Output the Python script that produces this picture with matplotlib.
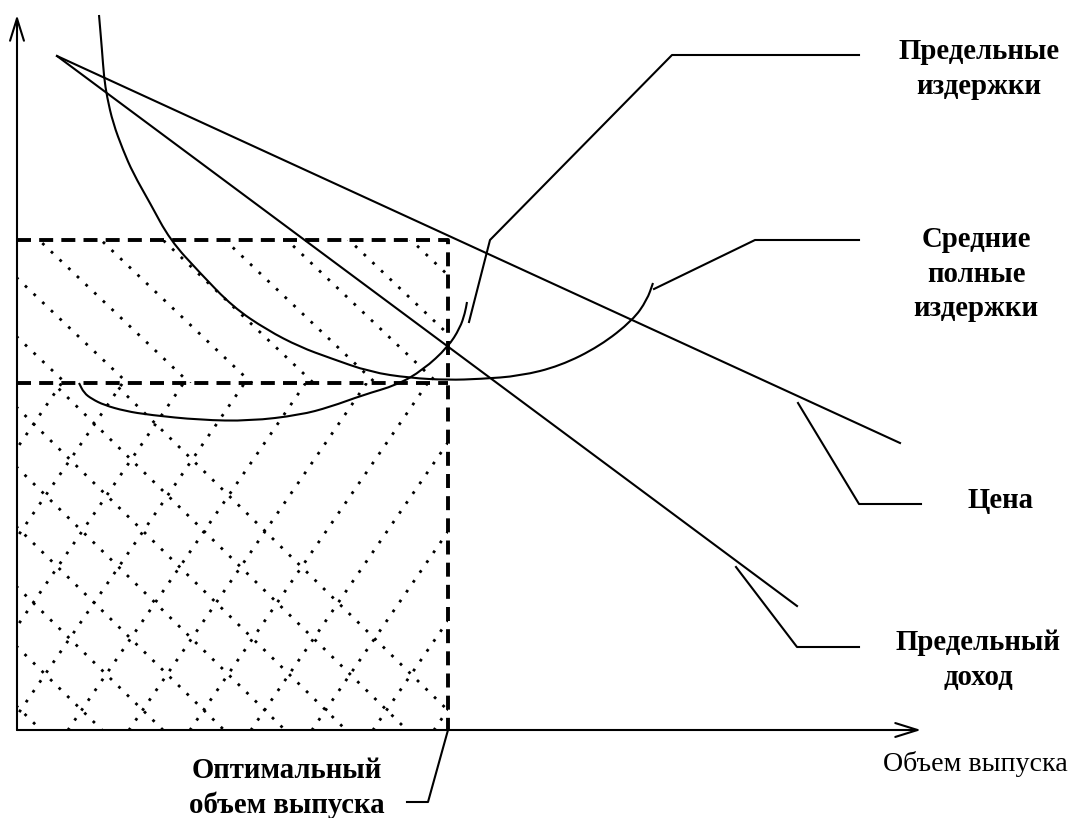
import numpy as np
import matplotlib
matplotlib.use('Agg')
import matplotlib.pyplot as plt
from matplotlib.patches import Rectangle, PathPatch
from matplotlib.path import Path

# axes: quantity (q) to the right, price / cost (p) upwards, origin at the axes corner
q_opt = 431        # optimal output
p_price = 490      # price at optimal output
p_atc = 347        # average total cost at optimal output

# demand (price) and marginal revenue lines
price_q = [40, 883]
price_p = [674, 287]
mr_q = [40, 780]
mr_p = [674, 124]

# average total cost (U-shaped)
atc_q = [82, 85, 87, 90, 96, 106, 116, 133, 153, 183, 216, 250, 283, 313,
         353, 393, 431, 463, 503, 543, 583, 616, 630, 636]
atc_p = [715, 680, 653, 633, 607, 580, 557, 527, 490, 457, 423, 400, 383, 372,
         358, 352, 350, 351, 354, 364, 384, 410, 430, 447]

# marginal cost
mc_q = [62, 67, 75, 87, 108, 133, 183, 233, 283, 313, 346, 380, 406, 431, 443, 448, 450]
mc_p = [347, 337, 331, 325, 319, 315, 310, 309, 315, 323, 335, 345, 360, 383, 402, 417, 428]

# leader lines for the labels
mc_lead_q = [452, 473, 655, 842]
mc_lead_p = [408, 490, 675, 675]
atc_lead_q = [637, 738, 842]
atc_lead_p = [441, 490, 490]
price_lead_q = [781, 842, 904]
price_lead_p = [327, 226, 226]
mr_lead_q = [719, 780, 842]
mr_lead_p = [163, 83, 83]
opt_lead_q = [431, 411, 390]
opt_lead_p = [0, -72, -72]


def smooth_curve(qs, ps):
    # quadratic bezier through midpoints, control points at the read-off points
    pts = np.column_stack([qs, ps]).astype(float)
    verts = [pts[0]]
    codes = [Path.MOVETO]
    verts.append((pts[0] + pts[1]) / 2)
    codes.append(Path.LINETO)
    for i in range(1, len(pts) - 1):
        verts += [pts[i], (pts[i] + pts[i + 1]) / 2]
        codes += [Path.CURVE3, Path.CURVE3]
    verts.append(pts[-1])
    codes.append(Path.LINETO)
    return PathPatch(Path(verts, codes), fill=False, lw=1.5, edgecolor='black')


fig = plt.figure(figsize=(10.73, 8.18), dpi=100)
ax = fig.add_axes([0, 0, 1, 1])
ax.set_xlim(-17, 1056)
ax.set_ylim(-88, 730)
ax.set_axis_off()

lw = 1.5
# axes with open arrow heads
arr = dict(arrowstyle='->,head_length=1.6,head_width=0.5', lw=lw, color='black',
           shrinkA=0, shrinkB=0)
ax.annotate('', xy=(0, 715), xytext=(0, 0), arrowprops=arr)
ax.annotate('', xy=(904, 0), xytext=(0, 0), arrowprops=arr)

# hatching: profit area (diagonal dots) and cost area (dotted diamonds)
dot = dict(color='black', lw=2.0, linestyle=(0, (1, 3.3)), dash_capstyle='butt')
profit_box = Rectangle((0, p_atc), q_opt, p_price - p_atc, fill=False, lw=0)
cost_box = Rectangle((0, 0), q_opt, p_atc, fill=False, lw=0)
ax.add_patch(profit_box)
ax.add_patch(cost_box)
xs = np.array([-800, 1200])
for q0 in np.arange(22 - 62 * 10, 500, 62):
    ln, = ax.plot(xs, p_price - 0.95 * (xs - q0), **dot)
    ln.set_clip_path(profit_box)
for q0 in np.arange(146 - 61 * 12, 500, 61):
    ln, = ax.plot(xs, -0.98 * (xs - q0), **dot)
    ln.set_clip_path(cost_box)
for q0 in np.arange(-71 - 61 * 8, 500, 61):
    ln, = ax.plot(xs, 1.46 * (xs - q0), **dot)
    ln.set_clip_path(cost_box)

# dashed guide lines
dash = dict(color='black', lw=2.8, linestyle=(0, (3.6, 2.1)))
ax.plot([0, q_opt, q_opt], [p_price, p_price, 0], **dash)
ax.plot([0, q_opt], [p_atc, p_atc], **dash)

# curves
ax.plot(price_q, price_p, color='black', lw=lw)
ax.plot(mr_q, mr_p, color='black', lw=lw)
ax.add_patch(smooth_curve(atc_q, atc_p))
ax.add_patch(smooth_curve(mc_q, mc_p))

for lq, lp in [(mc_lead_q, mc_lead_p), (atc_lead_q, atc_lead_p),
               (price_lead_q, price_lead_p), (mr_lead_q, mr_lead_p),
               (opt_lead_q, opt_lead_p)]:
    ax.plot(lq, lp, color='black', lw=lw)

bold = dict(family='Liberation Serif', fontweight='bold', fontsize=20.7,
            ha='center', va='center', linespacing=1.36)
ax.text(962, 661, 'Предельные\nиздержки', **bold)
ax.text(959, 456, 'Средние\nполные\nиздержки', **bold)
ax.text(983, 230, 'Цена', **bold)
ax.text(961, 70, 'Предельный\nдоход', **bold)
ax.text(270, -58, 'Оптимальный\nобъем выпуска', **bold)
ax.text(958, -34, 'Объем выпуска', family='Liberation Serif', fontsize=20.2,
        ha='center', va='center')

fig.savefig('out.png', dpi=100)
